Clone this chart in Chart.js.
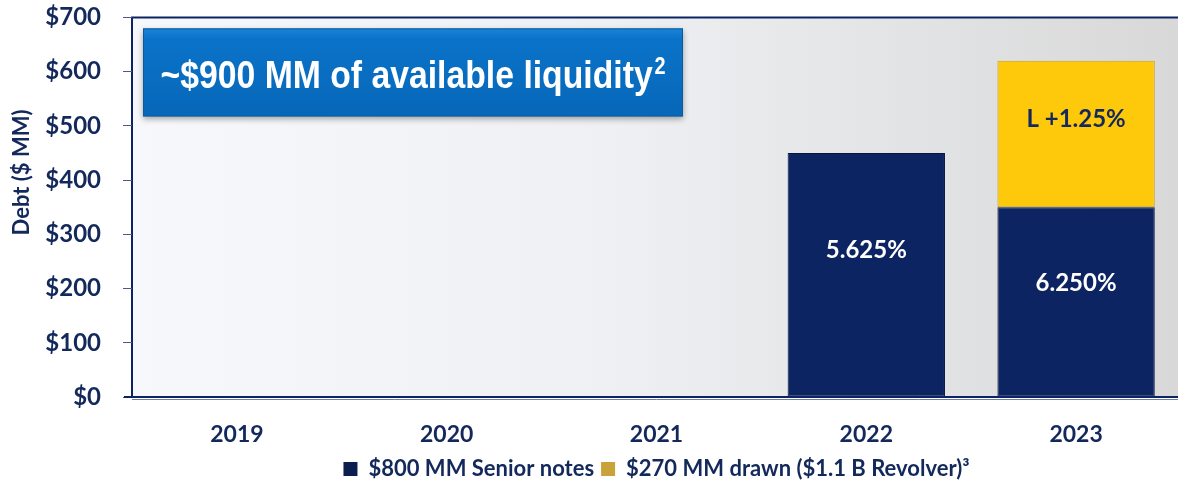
<!DOCTYPE html>
<html>
<head>
<meta charset="utf-8">
<script src="https://cdn.jsdelivr.net/npm/chart.js@4.4.1/dist/chart.umd.min.js"></script>
<style>
  html, body { margin: 0; padding: 0; background: #fff; overflow: hidden; }
  #wrap { position: relative; top: -19px; width: 1181px; height: 510px; }
</style>
</head>
<body>
<div id="wrap"><canvas id="chart"></canvas></div>
<script>
// data
const years = ['2019', '2020', '2021', '2022', '2023'];
const seniorNotes = [0, 0, 0, 450, 350];
const revolver = [0, 0, 0, 0, 270];
const seniorRates = ['', '', '', '5.625%', '6.250%'];
const revolverRates = ['', '', '', '', 'L +1.25%'];
const yTicks = [0, 100, 200, 300, 400, 500, 600, 700];

const navy = '#0c2462';
const ink = '#13295b';
const gold = '#ffc90b';
const font = 'Lato, "Open Sans", sans-serif';
const boxFont = '"Liberation Sans", Arial, sans-serif';

// gradient plot background + frame
const backdrop = {
    id: 'backdrop',
    beforeDraw(chart) {
        const { ctx, chartArea: a } = chart;
        const g = ctx.createLinearGradient(a.left, 0, a.right, 0);
        g.addColorStop(0, '#f6f8fb');
        g.addColorStop(0.45, '#eef0f3');
        g.addColorStop(1, '#d8d8d8');
        ctx.save();
        ctx.fillStyle = g;
        ctx.fillRect(a.left, a.top, a.right - a.left, a.bottom - a.top);
        ctx.strokeStyle = navy;
        ctx.lineWidth = 2;
        ctx.beginPath();
        ctx.moveTo(a.left, a.bottom);
        ctx.lineTo(a.left, a.top);
        ctx.lineTo(a.right, a.top);
        ctx.stroke();
        ctx.restore();
    },
    afterDatasetsDraw(chart) {
        const { ctx, chartArea: a } = chart;
        ctx.save();
        ctx.strokeStyle = navy;
        ctx.lineWidth = 2;
        ctx.beginPath();
        ctx.moveTo(a.left - 8, a.bottom);
        ctx.lineTo(a.right, a.bottom);
        ctx.stroke();
        ctx.strokeStyle = '#6d7fa6';
        ctx.lineWidth = 1;
        ctx.beginPath();
        ctx.moveTo(a.left, a.bottom + 2.5);
        ctx.lineTo(a.right, a.bottom + 2.5);
        ctx.stroke();
        ctx.restore();
    }
};

// rate labels inside bars, title box, axis title
const labels = {
    id: 'labels',
    afterDraw(chart) {
        const { ctx, chartArea: a } = chart;
        ctx.save();
        ctx.font = 'bold 24px ' + font;
        ctx.textAlign = 'center';
        ctx.textBaseline = 'middle';
        [[0, seniorRates, '#ffffff'], [1, revolverRates, ink]].forEach(([i, txt, col]) => {
            chart.getDatasetMeta(i).data.forEach((bar, j) => {
                if (!txt[j]) return;
                const top = Math.min(bar.y, bar.base);
                const h = Math.abs(bar.base - bar.y);
                ctx.fillStyle = col;
                ctx.fillText(txt[j], bar.x, top + h * 0.4);
            });
        });

        // axis title, centred a bit above the middle of the axis
        ctx.translate(22, a.top + 155);
        ctx.rotate(-Math.PI / 2);
        ctx.fillStyle = ink;
        ctx.font = 'bold 22px ' + font;
        ctx.fillText('Debt ($ MM)', 0, 0);
        ctx.restore();

        // liquidity box
        ctx.save();
        const x = a.left + 11, y = a.top + 11, w = 540, h = 88;
        ctx.shadowColor = 'rgba(0,0,0,0.35)';
        ctx.shadowBlur = 6;
        ctx.shadowOffsetY = 3;
        const g = ctx.createLinearGradient(0, y, 0, y + h);
        g.addColorStop(0, '#1a84d6');
        g.addColorStop(0.12, '#0a73c9');
        g.addColorStop(1, '#0767b8');
        ctx.fillStyle = g;
        ctx.fillRect(x, y, w, h);
        ctx.shadowColor = 'transparent';
        ctx.strokeStyle = '#0a5aa0';
        ctx.lineWidth = 1;
        ctx.strokeRect(x + 0.5, y + 0.5, w - 1, h - 1);
        ctx.fillStyle = '#ffffff';
        ctx.textBaseline = 'alphabetic';
        ctx.textAlign = 'left';
        const main = '~$900 MM of available liquidity';
        ctx.font = 'bold 39px ' + boxFont;
        const tw = ctx.measureText(main).width;
        ctx.font = 'bold 23px ' + boxFont;
        const sw = ctx.measureText('2').width;
        const target = 505;
        const sc = target / (tw + sw + 2);
        ctx.translate(x + (w - target) / 2, y + 60);
        ctx.scale(sc, 1);
        ctx.font = 'bold 39px ' + boxFont;
        ctx.fillText(main, 0, 0);
        ctx.font = 'bold 23px ' + boxFont;
        ctx.fillText('2', tw + 2, -14);
        ctx.restore();
    }
};

new Chart(document.getElementById('chart'), {
    type: 'bar',
    data: {
        labels: years,
        datasets: [
            {
                label: '$800 MM Senior notes',
                data: seniorNotes,
                backgroundColor: navy,
                borderColor: '#06163f',
                borderWidth: 1,
                borderSkipped: false,
                barPercentage: 0.75,
                categoryPercentage: 1
            },
            {
                label: '$270 MM drawn ($1.1 B Revolver)³',
                data: revolver,
                backgroundColor: gold,
                borderColor: '#c9a21c',
                borderWidth: 1,
                borderSkipped: false,
                barPercentage: 0.75,
                categoryPercentage: 1
            }
        ]
    },
    options: {
        responsive: true,
        maintainAspectRatio: false,
        animation: false,
        layout: { padding: { top: 0, right: 0, bottom: 1, left: 0 } },
        scales: {
            x: {
                stacked: true,
                afterFit(scale) { scale.height = 54; },
                grid: { display: false, drawTicks: false },
                border: { display: false },
                ticks: { color: ink, font: { family: font, size: 23, weight: 'bold' }, padding: 24 }
            },
            y: {
                stacked: true,
                min: 0,
                max: 700,
                afterFit(scale) { scale.width = 132; },
                afterBuildTicks(scale) { scale.ticks = yTicks.map(v => ({ value: v })); },
                grid: { drawOnChartArea: false, color: '#4a5c85', tickLength: 9 },
                border: { display: false },
                ticks: {
                    color: ink,
                    padding: 22,
                    font: { family: font, size: 24, weight: 'bold' },
                    callback: v => '$' + v
                }
            }
        },
        plugins: {
            legend: {
                position: 'bottom',
                fullSize: false,
                labels: {
                    color: ink,
                    boxWidth: 14,
                    boxHeight: 14,
                    padding: 7,
                    font: { family: font, size: 22, weight: 'bold' },
                    generateLabels(chart) {
                        const items = Chart.defaults.plugins.legend.labels.generateLabels(chart);
                        items[0].fillStyle = '#0c1e4f';
                        items[1].fillStyle = '#c9a23a';
                        items.forEach(it => { it.strokeStyle = 'transparent'; it.fontColor = ink; });
                        return items;
                    }
                }
            },
            tooltip: { enabled: false }
        }
    },
    plugins: [backdrop, labels]
});
</script>
</body>
</html>
